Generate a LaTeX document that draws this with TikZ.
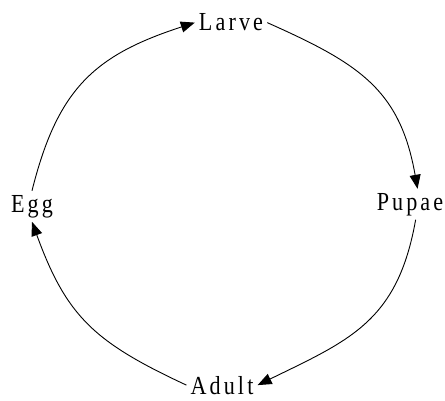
\documentclass[tikz,border=0pt]{standalone}
\usepackage{fontspec}
\setmainfont[LetterSpace=12, FakeStretch=0.85]{Liberation Serif}
\usetikzlibrary{arrows.meta}

\begin{document}
\begin{tikzpicture}[x=1pt, y=1pt,
  stage/.style={inner sep=4pt, font=\fontsize{26}{30}\selectfont},
  cycle/.style={line width=0.9pt, -{Triangle[length=14pt, width=11pt]}}]

\useasboundingbox (0,0) rectangle (445,400);

\node[stage, anchor=base] (larve) at (231,369) {Larve};
\node[stage, anchor=base] (pupae) at (410,190) {Pupae};
\node[stage, anchor=base] (adult) at (222,6) {Adult};
\node[stage, anchor=base] (egg) at (32,188) {Egg};

\draw[cycle] (egg.north) to[out=76, in=198, looseness=1.15] (larve.west);
\draw[cycle] (larve.east) to[out=-24, in=100, looseness=1.15] (pupae.64);
\draw[cycle] (pupae.290) to[out=260, in=26, looseness=1.15] (adult.east);
\draw[cycle] (adult.west) to[out=155, in=290, looseness=1.15] (egg.south);

\end{tikzpicture}
\end{document}
